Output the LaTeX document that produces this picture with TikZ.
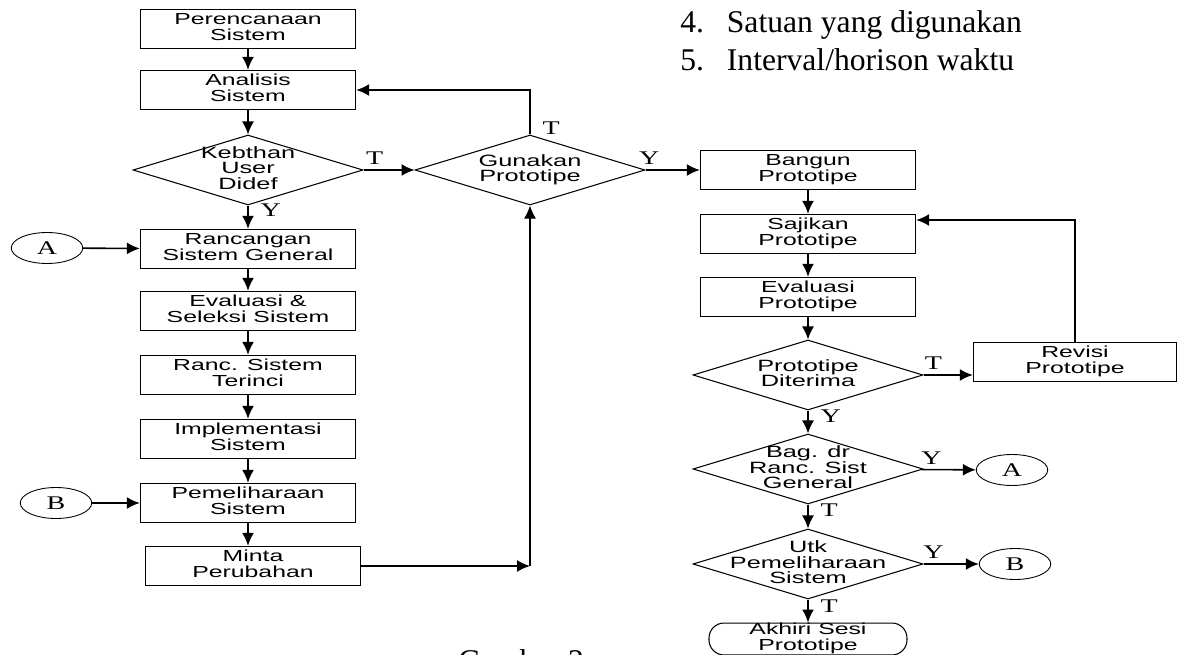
\documentclass[tikz,border=0pt]{standalone}
\usepackage{fontspec}
\setmainfont{Liberation Serif}
\newfontfamily\flowfont{Liberation Sans}[FakeStretch=1.55]
\newfontfamily\markfont{Liberation Serif}[FakeStretch=1.45]
\usetikzlibrary{shapes.geometric,arrows.meta}
\newcommand{\boxtext}[1]{\begin{tabular}{@{}c@{}}#1\end{tabular}}
\newcommand{\dtext}[1]{\makebox[0pt]{\begin{tabular}{@{}c@{}}#1\end{tabular}}}
\tikzset{
    procbox/.style = {draw, line width = 0.8pt, minimum width = 4.3cm, minimum height = 0.78cm, inner sep = 0pt, font = \flowfont\fontsize{9.1}{8.3}\selectfont},
    decision/.style = {draw, shape = diamond, aspect = 3.3, line width = 0.6pt, minimum width = 4.6cm, minimum height = 1.4cm, inner sep = 0pt, font = \flowfont\fontsize{9.3}{7}\selectfont},
    terminal/.style = {draw, rounded corners = 3mm, line width = 0.6pt, minimum width = 3.96cm, minimum height = 0.6cm, inner sep = 0pt, font = \flowfont\fontsize{9.1}{8.3}\selectfont},
    offpage/.style = {draw, shape = ellipse, line width = 0.5pt, minimum width = 1.43cm, minimum height = 0.62cm, inner sep = 0pt, font = \markfont\fontsize{11}{13}\selectfont},
    arr/.style = {-{Latex[length = 2.6mm, width = 2.4mm]}, line width = 0.9pt},
    yt/.style = {font = \markfont\fontsize{11}{13}\selectfont, inner sep = 1pt},
}
\begin{document}
\begin{tikzpicture}[x = 0.02cm, y = -0.02cm, font = \small]
        \useasboundingbox (0,0) rectangle (1178,655);
        \clip (0,0) rectangle (1178,655);
        \node[procbox] (rencana) at (248,29) {\boxtext{Perencanaan\\Sistem}};
        \node[procbox] (analisis) at (248,90) {\boxtext{Analisis\\Sistem}};
        \node[decision] (kebutuhan) at (248,170) {\dtext{Kebthan\\User\\Didef}};
        \node[procbox] (rancangan) at (248,249) {\boxtext{Rancangan\\Sistem General}};
        \node[procbox] (evaluasi) at (248,311) {\boxtext{Evaluasi \&\\Seleksi Sistem}};
        \node[procbox] (terinci) at (248,375) {\boxtext{Ranc. Sistem\\Terinci}};
        \node[procbox] (implementasi) at (248,439) {\boxtext{Implementasi\\Sistem}};
        \node[procbox] (pemeliharaan) at (248,503) {\boxtext{Pemeliharaan\\Sistem}};
        \node[procbox] (minta) at (253,566) {\boxtext{Minta\\Perubahan}};
        \node[offpage] (masukA) at (47,248) {A};
        \node[offpage] (masukB) at (56,503) {B};
        \node[decision] (gunakan) at (530,170) {\dtext{Gunakan\\Prototipe}};
        \node[procbox] (bangun) at (808,170) {\boxtext{Bangun\\Prototipe}};
        \node[procbox] (sajikan) at (808,234) {\boxtext{Sajikan\\Prototipe}};
        \node[procbox] (evalproto) at (808,297) {\boxtext{Evaluasi\\Prototipe}};
        \node[decision] (diterima) at (808,375) {\dtext{Prototipe\\Diterima}};
        \node[procbox, minimum width = 4.06cm] (revisi) at (1075,362) {\boxtext{Revisi\\Prototipe}};
        \node[decision] (bagian) at (808,469) {\dtext{Bag. dr\\Ranc. Sist\\General}};
        \node[decision] (utk) at (808,564) {\dtext{Utk\\Pemeliharaan\\Sistem}};
        \node[terminal] (akhiri) at (808,639) {\boxtext{Akhiri Sesi\\Prototipe}};
        \node[offpage] (keluarA) at (1012,470) {A};
        \node[offpage] (keluarB) at (1015,564) {B};
        \node[anchor = base west, inner sep = 0pt, font = \fontsize{18}{21.6}\selectfont] (daftar) at (680,33) {
            \begin{tabular}[t]{@{}l@{\hspace{13pt}}l@{}}
                4. & Satuan yang digunakan \\
                5. & Interval/horison waktu \\
            \end{tabular}
        };
        \node[anchor = base west, inner sep = 0pt, font = \fontsize{18}{21.6}\selectfont] (judul) at (458,671) {Gambar 2};
        \coordinate (gabung) at (530,566);
        \coordinate (balik) at (1075,220);
        \draw[arr] (rencana) -- (analisis);
        \draw[arr] (analisis) -- (kebutuhan);
        \draw[arr] (kebutuhan) -- node[yt, right = 2mm, pos = 0.2] (ya1) {Y} (rancangan);
        \draw[arr] (kebutuhan) -- node[yt, above = 0.6mm, pos = 0.22] (tidak1) {T} (gunakan);
        \draw[arr] (rancangan) -- (evaluasi);
        \draw[arr] (evaluasi) -- (terinci);
        \draw[arr] (terinci) -- (implementasi);
        \draw[arr] (implementasi) -- (pemeliharaan);
        \draw[arr] (pemeliharaan.south) -- (pemeliharaan.south |- minta.north);
        \draw[arr] (masukA) -- (rancangan);
        \draw[arr] (masukB) -- (pemeliharaan);
        \draw[arr] (minta) -- (gabung);
        \draw[arr] (gabung) -- (gunakan);
        \draw[arr] (gunakan.north) |- node[yt, right = 2mm, pos = 0.075] (tidak2) {T} (analisis.east);
        \draw[arr] (gunakan) -- node[yt, above = 0.6mm, pos = 0.07] (ya2) {Y} (bangun);
        \draw[arr] (bangun) -- (sajikan);
        \draw[arr] (sajikan) -- (evalproto);
        \draw[arr] (evalproto) -- (diterima);
        \draw[arr] (diterima) -- node[yt, above = 0.6mm, pos = 0.2] (tidak3) {T} (diterima -| revisi.west);
        \draw[arr] (revisi.north) |- (sajikan.east |- balik);
        \draw[arr] (diterima) -- node[yt, right = 2mm, pos = 0.25] (ya3) {Y} (bagian);
        \draw[arr] (bagian) -- node[yt, above = 0.6mm, pos = 0.18] (ya4) {Y} (keluarA);
        \draw[arr] (bagian) -- node[yt, right = 2mm, pos = 0.25] (tidak4) {T} (utk);
        \draw[arr] (utk) -- node[yt, above = 0.6mm, pos = 0.18] (ya5) {Y} (keluarB);
        \draw[arr] (utk) -- node[yt, right = 2mm, pos = 0.3] (tidak5) {T} (akhiri);
    \end{tikzpicture}
\end{document}
